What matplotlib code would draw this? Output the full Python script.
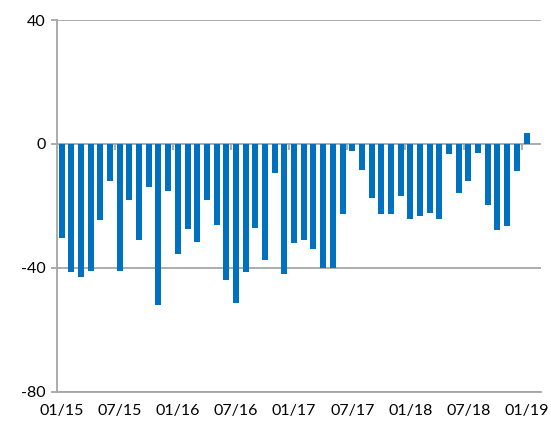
import matplotlib
matplotlib.use("Agg")
import matplotlib.pyplot as plt
import numpy as np

# monthly values, 01/15 .. 01/19
values = [-30.3, -41.2, -43.0, -41.0, -24.4, -11.9, -40.9, -18.0, -31.0, -13.8,
          -51.8, -15.2, -35.6, -27.4, -31.5, -18.2, -26.0, -44.0, -51.3, -41.3,
          -27.0, -37.4, -9.4, -42.0, -32.0, -31.0, -33.8, -40.0, -40.0, -22.7,
          -2.4, -8.3, -17.5, -22.7, -22.5, -16.7, -24.3, -23.3, -22.2, -24.3,
          -3.2, -15.8, -12.1, -2.8, -19.6, -27.6, -26.6, -8.8, 3.4]
tick_labels = ["01/15", "07/15", "01/16", "07/16", "01/17", "07/17", "01/18", "07/18", "01/19"]
y_ticks = [40, 0, -40, -80]

plt.rcParams['font.family'] = ['Lato', 'DejaVu Sans']
grey = '#a6a6a6'

fig = plt.figure(figsize=(5.51, 4.26), dpi=100)
ax = fig.add_axes([0.103, 0.080, 0.879, 0.873])

x = np.arange(len(values))
ax.bar(x, values, width=0.62, color='#0070C0', zorder=3)

ax.set_ylim(-80, 40)
ax.set_xlim(-0.5, len(values) + 0.5)
ax.set_yticks(y_ticks)
ax.set_yticklabels([str(v) for v in y_ticks], fontsize=11.5)
ax.yaxis.grid(True, color=grey, linewidth=1.3, zorder=0)
ax.tick_params(axis='y', length=4, color=grey, width=1.3, pad=4)

ax.set_xticks(x[::6])
ax.set_xticklabels(tick_labels, fontsize=11.5)
ax.tick_params(axis='x', length=0, pad=9)

for side in ['top', 'right']:
    ax.spines[side].set_visible(False)
for side in ['left', 'bottom']:
    ax.spines[side].set_color(grey)
    ax.spines[side].set_linewidth(1.3)

# category axis crossing at zero, tick marks between categories
zero_pos = (0 - (-80)) / 120
sec = ax.secondary_xaxis(zero_pos)
sec.set_alignment('bottom')
sec.set_xticks(np.arange(5.5, len(values), 6))
sec.set_xticklabels([])
sec.tick_params(axis='x', length=4, width=1.3, color=grey, direction='out')
sec.spines['bottom'].set_visible(False)
sec.spines['top'].set_visible(False)

fig.savefig('out.png', dpi=100)
